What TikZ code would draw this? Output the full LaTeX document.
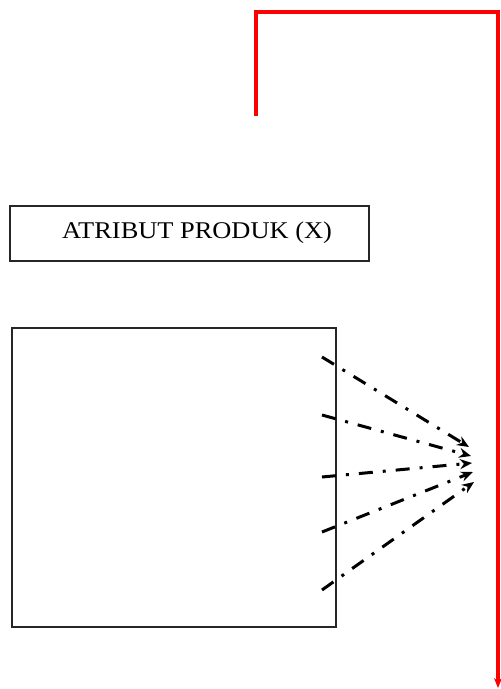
\documentclass[tikz,border=0pt]{standalone}
\usepackage{fontspec}
\setmainfont{Liberation Serif}
\newfontfamily\labelfont[FakeStretch=1.1]{Liberation Serif}
\usetikzlibrary{arrows.meta}
\begin{document}
\begin{tikzpicture}[x=1pt,y=-1pt,
  redline/.style={draw=red, line width=3.2pt},
  boxstyle/.style={draw=black!85, line width=1.6pt, inner sep=0pt},
  dashdotarrow/.style={draw=black, line width=3pt, dash pattern=on 14pt off 10pt on 3pt off 10pt,
     -{Stealth[length=12pt,width=10pt]}}
]
\useasboundingbox (0,0) rectangle (501,689);
% red path
\coordinate (r0) at (256,116);
\coordinate (r1) at (256,12);
\coordinate (r2) at (498,12);
\coordinate (r3) at (498,688);
\draw[redline, -{Stealth[length=10pt,width=8pt]}] (r0) -- (r1) -- (r2) -- (r3);
% box 1
\node[boxstyle, minimum width=359pt, minimum height=55pt, anchor=north west] (b1) at (9,205) {};
\node[font=\labelfont\fontsize{24}{26}\selectfont, anchor=center] (t1) at (197,233) {ATRIBUT PRODUK (X)};
% box 2
\node[boxstyle, minimum width=324pt, minimum height=299pt, anchor=north west] (b2) at (11,327) {};
% dash-dot arrows
\coordinate (s1) at (322,357); \coordinate (e1) at (469,447);
\coordinate (s2) at (322,415); \coordinate (e2) at (471,456);
\coordinate (s3) at (322,477); \coordinate (e3) at (472,463);
\coordinate (s4) at (322,532); \coordinate (e4) at (473,472);
\coordinate (s5) at (322,590); \coordinate (e5) at (474,482);
\foreach \i in {1,...,5} { \draw[dashdotarrow] (s\i) -- (e\i); }
\end{tikzpicture}
\end{document}
